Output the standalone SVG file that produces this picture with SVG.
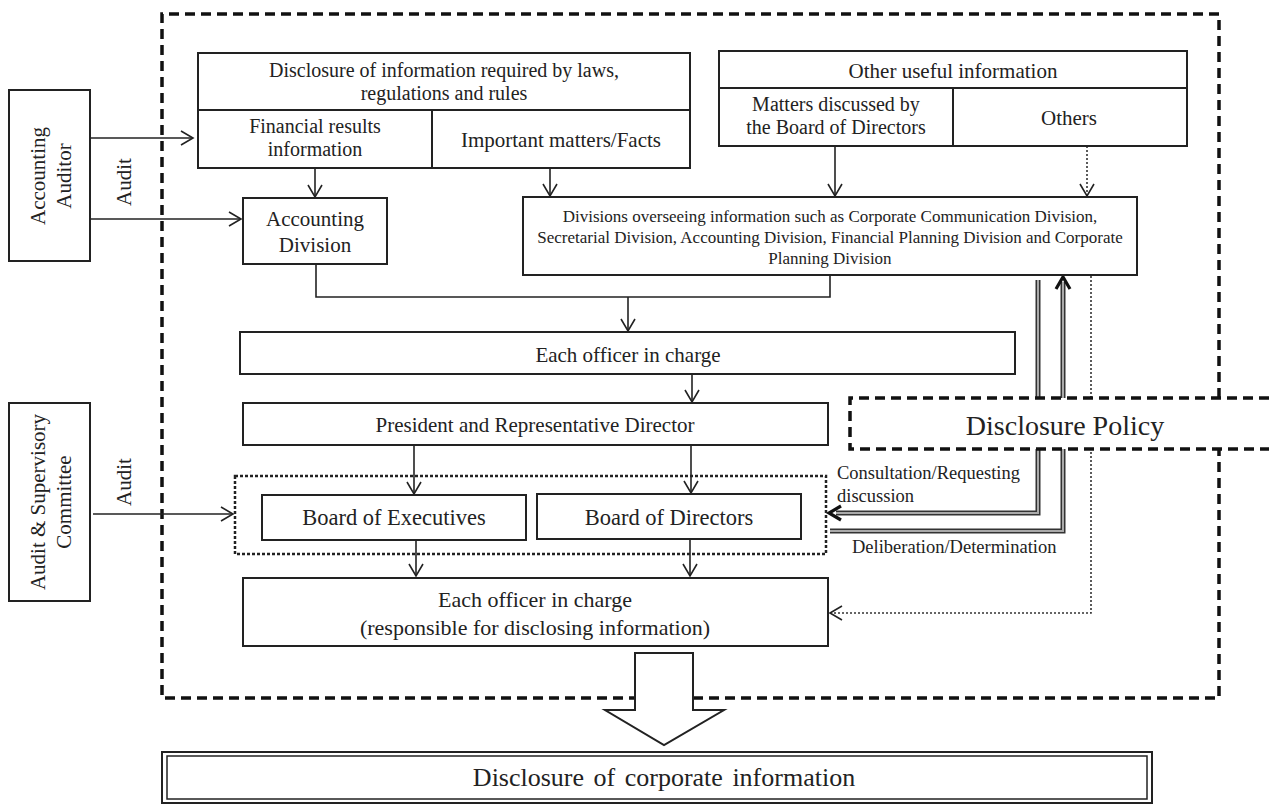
<svg xmlns="http://www.w3.org/2000/svg" width="1269" height="805" viewBox="0 0 1269 805">
<defs>
<style>
.box{fill:#fff;stroke:#222;stroke-width:2}
.t{font-family:"Liberation Serif","Times New Roman",serif;fill:#222;text-anchor:middle}
.f21{font-size:21px}
.f20{font-size:20px}
.f17{font-size:17px}
.f18{font-size:18.5px}
.ln{fill:none;stroke:#222;stroke-width:1.6}
.dot{fill:none;stroke:#333;stroke-width:1.6;stroke-dasharray:2 2}
.dash{fill:none;stroke:#111;stroke-width:3.5;stroke-dasharray:10 6}
.dbo{fill:none;stroke:#333;stroke-width:5}
.dbi{fill:none;stroke:#aaa;stroke-width:2}
</style>
<marker id="ah" markerUnits="userSpaceOnUse" markerWidth="16" markerHeight="18" refX="13" refY="8" orient="auto">
<path d="M1,1 L13,8 L1,15" fill="none" stroke="#222" stroke-width="1.6"/>
</marker>
<marker id="ahb" markerUnits="userSpaceOnUse" markerWidth="18" markerHeight="20" refX="14" refY="9" orient="auto">
<path d="M2,2 L14,9 L2,16" fill="none" stroke="#111" stroke-width="3.2"/>
</marker>
</defs>

<!-- outer dashed frame -->
<path class="dash" d="M1219,398 V14 H162 V698 H1219 V449"/>

<g id="connectors">
<line class="ln" x1="91" y1="138" x2="193" y2="138" marker-end="url(#ah)"/>
<line class="ln" x1="91" y1="219" x2="241" y2="219" marker-end="url(#ah)"/>
<line class="ln" x1="93" y1="514" x2="233" y2="514" marker-end="url(#ah)"/>
<line class="ln" x1="315" y1="168" x2="315" y2="197" marker-end="url(#ah)"/>
<line class="ln" x1="550" y1="168" x2="550" y2="196" marker-end="url(#ah)"/>
<line class="ln" x1="835" y1="146" x2="835" y2="196" marker-end="url(#ah)"/>
<line class="dot" x1="1087" y1="146" x2="1087" y2="196" marker-end="url(#ah)"/>
<path class="ln" d="M316,264 V297 H830 V275"/>
<line class="ln" x1="628" y1="297" x2="628" y2="331" marker-end="url(#ah)"/>
<line class="ln" x1="692" y1="374" x2="692" y2="402" marker-end="url(#ah)"/>
<line class="ln" x1="414" y1="445" x2="414" y2="494" marker-end="url(#ah)"/>
<line class="ln" x1="691" y1="445" x2="691" y2="493" marker-end="url(#ah)"/>
<line class="ln" x1="416" y1="540" x2="416" y2="576" marker-end="url(#ah)"/>
<line class="ln" x1="690" y1="539" x2="690" y2="576" marker-end="url(#ah)"/>
<path class="dot" d="M1091,276 V613 H830" marker-end="url(#ah)"/>
<path class="dbo" d="M1038,280 V513 H836"/>
<path class="dbi" d="M1038,280 V513 H836"/>
<path class="dbo" d="M830,531 H1063 V282"/>
<path class="dbi" d="M830,531 H1063 V282"/>
<path d="M1063,290 V277" fill="none" stroke="none" marker-end="url(#ahb)"/>
<path d="M845,513 H829" fill="none" stroke="none" marker-end="url(#ahb)"/>
</g>

<g id="accounting-auditor">
<rect class="box" x="9" y="90" width="81" height="171"/>
<text class="t f21" transform="translate(45,176) rotate(-90)">Accounting</text>
<text class="t f21" transform="translate(71,176) rotate(-90)">Auditor</text>
<text class="t f21" transform="translate(131,182) rotate(-90)">Audit</text>
</g>

<g id="audit-committee">
<rect class="box" x="9" y="403" width="81" height="198"/>
<text class="t f21" transform="translate(45,502) rotate(-90)">Audit &amp; Supervisory</text>
<text class="t f21" transform="translate(71,502) rotate(-90)">Committee</text>
<text class="t f21" transform="translate(131,482) rotate(-90)">Audit</text>
</g>

<g id="required-info">
<rect class="box" x="198" y="53" width="492" height="115"/>
<line class="ln" x1="198" y1="110" x2="690" y2="110" style="stroke-width:2"/>
<line class="ln" x1="432" y1="110" x2="432" y2="168" style="stroke-width:2"/>
<text class="t f20" x="444" y="77">Disclosure of information required by laws,</text>
<text class="t f20" x="444" y="100">regulations and rules</text>
<text class="t f20" x="315" y="133">Financial results</text>
<text class="t f20" x="315" y="156">information</text>
<text class="t f21" x="561" y="147">Important matters/Facts</text>
</g>

<g id="other-info">
<rect class="box" x="719" y="51" width="468" height="95"/>
<line class="ln" x1="719" y1="88" x2="1187" y2="88" style="stroke-width:2"/>
<line class="ln" x1="953" y1="88" x2="953" y2="146" style="stroke-width:2"/>
<text class="t f21" x="953" y="78">Other useful information</text>
<text class="t f20" x="836" y="111">Matters discussed by</text>
<text class="t f20" x="836" y="134">the Board of Directors</text>
<text class="t f21" x="1069" y="125">Others</text>
</g>

<g id="accounting-division">
<rect class="box" x="243" y="198" width="144" height="66"/>
<text class="t f21" x="315" y="226">Accounting</text>
<text class="t f21" x="315" y="252">Division</text>
</g>

<g id="divisions">
<rect class="box" x="523" y="197" width="614" height="78"/>
<text class="t f17" x="830" y="222">Divisions overseeing information such as Corporate Communication Division,</text>
<text class="t f17" x="830" y="243">Secretarial Division, Accounting Division, Financial Planning Division and Corporate</text>
<text class="t f17" x="830" y="264">Planning Division</text>
</g>

<g id="officer">
<rect class="box" x="240" y="332" width="775" height="42"/>
<text class="t f21" x="628" y="362">Each officer in charge</text>
</g>

<g id="president">
<rect class="box" x="243" y="403" width="585" height="42"/>
<text class="t f21" x="535" y="432">President and Representative Director</text>
</g>

<g id="boards">
<rect x="235" y="476" width="591" height="78" fill="none" stroke="#222" stroke-width="2.5" stroke-dasharray="3 2"/>
<rect class="box" x="262" y="495" width="264" height="45"/>
<text class="t" style="font-size:22.5px" x="394" y="525">Board of Executives</text>
<rect class="box" x="537" y="494" width="264" height="45"/>
<text class="t" style="font-size:22.5px" x="669" y="525">Board of Directors</text>
</g>

<g id="officer-disclosing">
<rect class="box" x="243" y="578" width="585" height="68"/>
<text class="t" style="font-size:22px" x="535" y="607">Each officer in charge</text>
<text class="t" style="font-size:22px" x="535" y="635">(responsible for disclosing information)</text>
</g>

<g id="labels">
<text class="t f18" x="837" y="479" style="text-anchor:start">Consultation/Requesting</text>
<text class="t f18" x="837" y="502" style="text-anchor:start">discussion</text>
<text class="t f18" x="852" y="553" style="text-anchor:start">Deliberation/Determination</text>
</g>

<g id="disclosure-policy">
<path d="M1269,398 H850 V449 H1269 Z" fill="#fff" stroke="none"/>
<path class="dash" d="M1269,398 H850 V449 H1269"/>
<text class="t" style="font-size:28px" x="1065" y="435">Disclosure Policy</text>
</g>

<g id="big-arrow">
<path d="M635,653 H693 V710 H724 L664,745 L605,710 H635 Z" fill="#fff" stroke="#222" stroke-width="2"/>
</g>

<g id="corporate-disclosure">
<rect x="162" y="752" width="990" height="51" fill="#fff" stroke="#222" stroke-width="2"/>
<rect x="167" y="756" width="980" height="43" fill="none" stroke="#222" stroke-width="1.5"/>
<text class="t" style="font-size:26px;word-spacing:3px" x="664" y="786">Disclosure of corporate information</text>
</g>
</svg>
